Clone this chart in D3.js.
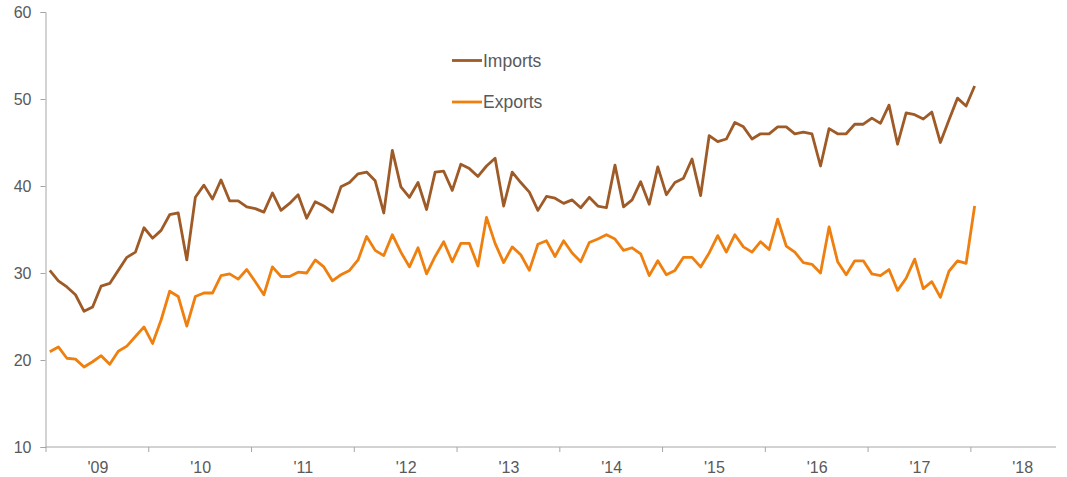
<!DOCTYPE html>
<html>
<head>
<meta charset="utf-8">
<script src="https://cdn.jsdelivr.net/npm/d3@7"></script>
<style>
  html, body { margin: 0; padding: 0; background: #fff; }
  svg { display: block; font-family: "Liberation Sans", Arial, sans-serif; }
</style>
</head>
<body>
<svg id="chart" width="1067" height="477"></svg>
<script>
// monthly values, Jan 2009 .. Jan 2018
const imports = [
  30.3, 29.1, 28.4, 27.5, 25.6, 26.1, 28.5, 28.8, 30.3, 31.8,
  32.4, 35.2, 34.0, 34.9, 36.7, 36.9, 31.5, 38.7, 40.1, 38.5,
  40.7, 38.3, 38.3, 37.6, 37.4, 37.0, 39.2, 37.2, 38.0, 39.0,
  36.3, 38.2, 37.7, 37.0, 39.9, 40.4, 41.4, 41.6, 40.6, 36.9,
  44.1, 39.9, 38.7, 40.4, 37.3, 41.6, 41.7, 39.5, 42.5, 42.0,
  41.1, 42.3, 43.2, 37.7, 41.6, 40.4, 39.3, 37.2, 38.8, 38.6,
  38.0, 38.4, 37.5, 38.7, 37.7, 37.5, 42.4, 37.6, 38.4, 40.5,
  37.9, 42.2, 39.0, 40.4, 40.9, 43.1, 38.9, 45.8, 45.1, 45.4,
  47.3, 46.8, 45.4, 46.0, 46.0, 46.8, 46.8, 46.0, 46.2, 46.0,
  42.3, 46.6, 46.0, 46.0, 47.1, 47.1, 47.8, 47.2, 49.3, 44.8,
  48.4, 48.2, 47.7, 48.5, 45.0, 47.6, 50.1, 49.2, 51.5
];
const exports_ = [
  20.95, 21.5, 20.2, 20.1, 19.2, 19.8, 20.5, 19.5, 21.0, 21.6,
  22.7, 23.8, 21.9, 24.6, 27.9, 27.3, 23.9, 27.3, 27.7, 27.7,
  29.7, 29.9, 29.3, 30.4, 29.0, 27.5, 30.7, 29.6, 29.6, 30.1,
  30.0, 31.5, 30.7, 29.1, 29.8, 30.3, 31.5, 34.2, 32.6, 32.0,
  34.4, 32.4, 30.7, 32.9, 29.9, 31.9, 33.6, 31.3, 33.4, 33.4,
  30.8, 36.4, 33.4, 31.2, 33.0, 32.1, 30.3, 33.3, 33.7, 31.9,
  33.7, 32.3, 31.3, 33.5, 33.9, 34.4, 33.9, 32.6, 32.9, 32.2,
  29.7, 31.4, 29.8, 30.3, 31.8, 31.8, 30.7, 32.3, 34.3, 32.4,
  34.4, 33.0, 32.4, 33.6, 32.7, 36.2, 33.1, 32.4, 31.2, 31.0,
  30.0, 35.3, 31.3, 29.8, 31.4, 31.4, 29.9, 29.7, 30.4, 28.0,
  29.4, 31.6, 28.2, 29.0, 27.2, 30.2, 31.4, 31.1, 37.7
];
const yearLabels = ["'09", "'10", "'11", "'12", "'13", "'14", "'15", "'16", "'17", "'18"];
const yTicks = [10, 20, 30, 40, 50, 60];
const seriesNames = ["Imports", "Exports"];
const seriesColors = ["#9e5b27", "#ef7f0e"];

const svg = d3.select('#chart');
const axisColor = '#a6a6a6';
const textColor = '#595959';

// x: month index (0 = Jan 2009)
const x = d3.scaleLinear().domain([-0.5, 117.5]).range([45.5, 1056]);
const y = d3.scaleLinear().domain([10, 60]).range([447, 12]);

// y axis
const yAxis = svg.append('g')
    .attr('transform', `translate(${x(-0.5)},0)`)
    .call(d3.axisLeft(y).tickValues(yTicks).tickSize(5).tickPadding(9));
yAxis.select('.domain').attr('stroke', axisColor);
yAxis.selectAll('.tick line').attr('stroke', axisColor);
yAxis.selectAll('.tick text')
    .attr('fill', textColor)
    .style('font-size', '16px');

// x axis (ticks at year boundaries)
const xTickVals = d3.range(0, 10).map(k => 12 * k - 0.5);
const xAxis = svg.append('g')
    .attr('transform', `translate(0,${y(10)})`)
    .call(d3.axisBottom(x).tickValues(xTickVals).tickSize(5).tickFormat(''));
xAxis.select('.domain').attr('stroke', axisColor).attr('d', `M${x(-0.5)},0H${x(117.5)}`);
xAxis.selectAll('.tick line').attr('stroke', axisColor);

svg.append('g').selectAll('text')
    .data(yearLabels)
    .join('text')
    .attr('x', (d, i) => x(12 * i + 5.5) + 1)
    .attr('y', 473)
    .attr('text-anchor', 'middle')
    .attr('fill', textColor)
    .style('font-size', '16px')
    .text(d => d);

// lines
const line = d3.line()
    .x((d, i) => x(i))
    .y(d => y(d));

[imports, exports_].forEach((data, k) => {
    svg.append('path')
        .datum(data)
        .attr('fill', 'none')
        .attr('stroke', seriesColors[k])
        .attr('stroke-width', 2.8)
        .attr('stroke-linejoin', 'round')
        .attr('d', line);
});

// legend
const legend = svg.append('g');
seriesNames.forEach((name, k) => {
    const ly = 60.5 + k * 41.5;
    legend.append('line')
        .attr('x1', 452).attr('x2', 482)
        .attr('y1', ly).attr('y2', ly)
        .attr('stroke', seriesColors[k])
        .attr('stroke-width', 2.8);
    legend.append('text')
        .attr('x', 483)
        .attr('y', ly)
        .attr('dy', '0.35em')
        .attr('fill', textColor)
        .style('font-size', '17.5px')
        .text(name);
});
</script>
</body>
</html>
